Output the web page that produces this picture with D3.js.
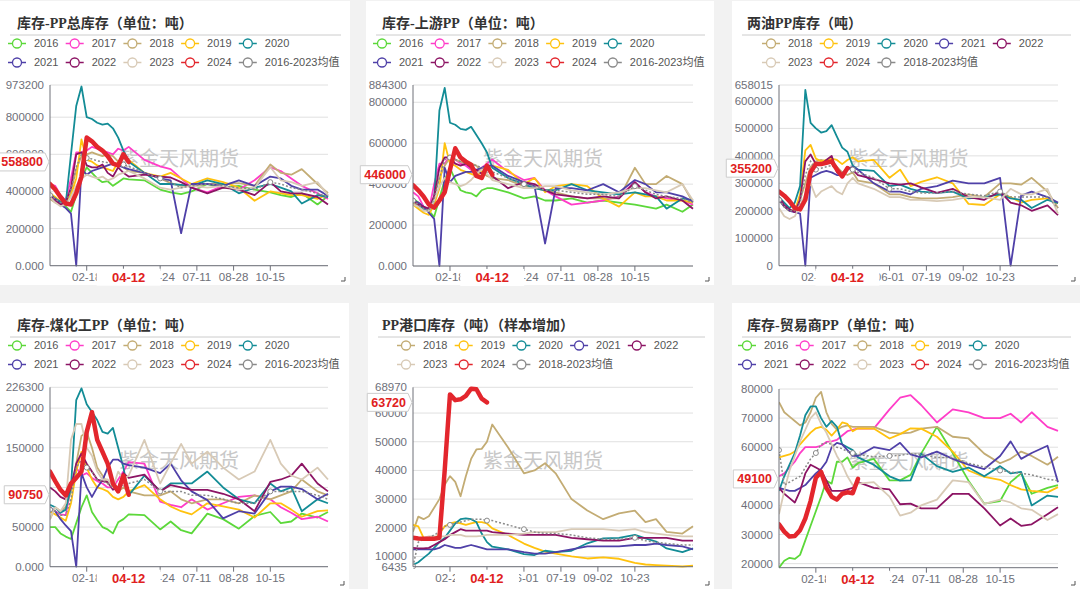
<!DOCTYPE html>
<html>
<head>
    <meta charset="UTF-8">
    <title>PP库存</title>
    <script src="https://d3js.org/d3.v7.min.js"></script>
    <style>
        body { margin: 0; background: #f2f2f2; }
        svg { display: block; font-family: "Liberation Sans", "Noto Sans CJK SC", sans-serif; }
    </style>
</head>
<body>
    <svg width="1080" height="589"></svg>
    <script>
        // week index of every data point: weekly at the start of the year, sparser later
        const weeks = [0,1,2,3,4,5,6,7,8,9,10,11,12,13,14,15,18,21,23,25,27,30,33,36,39,42,44,46,48,51,53];
        const tickIdx = [7, 14, 21, 28, 35, 42];
        // the label at week 14 sits under the 04-12 marker, so it is left empty
        const ticksA = ["02-18", "", "05-24", "07-11", "08-28", "10-15"];
        const ticksB = ["02-22", "", "06-01", "07-19", "09-02", "10-23"];
        const years16 = [2016, 2017, 2018, 2019, 2020, 2021, 2022, 2023, 2024];
        const years18 = [2018, 2019, 2020, 2021, 2022, 2023, 2024];

        // all values in thousand tonnes
        const totalPP = {
            2016: [380,360,340,320,290,380,470,530,500,470,450,455,430,450,470,465,460,410,395,385,400,440,420,430,410,395,380,370,390,330,375],
            2017: [440,430,380,350,470,610,610,620,640,630,620,610,600,630,620,640,570,535,520,470,420,395,430,410,460,530,510,470,430,390,360],
            2018: [360,340,330,335,400,520,590,600,610,600,590,600,590,560,530,510,500,470,445,430,430,440,440,445,430,545,500,490,520,440,390],
            2019: [390,370,345,340,380,470,680,570,560,540,530,520,510,560,590,570,500,480,500,470,440,470,450,420,350,400,390,380,380,360,385],
            2020: [385,360,345,335,600,860,965,800,790,770,760,765,740,690,620,560,500,440,440,435,430,460,440,390,420,440,420,400,335,380,370],
            2021: [380,360,330,310,280,0,520,490,510,520,530,540,550,540,530,520,500,470,460,175,440,440,430,460,430,480,470,430,410,410,375],
            2022: [380,350,330,340,420,600,610,540,530,530,545,500,480,530,500,480,490,480,475,450,420,390,420,410,380,450,400,390,390,370,330],
            2023: [370,340,320,330,370,430,470,490,480,470,480,460,470,490,500,510,470,420,410,420,430,420,430,410,420,530,460,450,430,450,380],
            2024: [440,410,370,335,330,390,480,690,670,640,620,590,550,540,600,558.8],
            avg: [380,360,340,335,410,530,600,580,575,565,560,555,545,550,545,535,500,470,450,420,430,440,430,420,410,450,440,420,410,390,370]
        };

        const upstreamPP = {
            2016: [330,310,290,270,240,330,420,480,420,370,360,355,340,370,380,380,360,330,340,320,320,330,310,320,310,300,290,280,300,265,300],
            2017: [360,340,290,270,400,500,500,540,520,500,490,470,440,480,500,520,460,420,430,370,340,300,310,320,340,410,360,340,330,320,300],
            2018: [310,290,270,280,340,430,490,530,520,510,500,500,490,460,440,430,420,390,380,370,360,340,330,330,330,480,400,400,440,400,310],
            2019: [300,280,260,250,300,380,600,500,490,470,460,450,440,460,470,490,470,400,430,360,390,400,390,330,290,360,340,340,320,320,310],
            2020: [330,300,280,270,320,760,870,700,690,670,665,680,640,600,555,480,430,400,380,370,370,400,370,360,350,360,350,340,280,330,320],
            2021: [320,310,290,260,230,0,480,410,440,450,460,460,470,480,490,490,440,410,390,110,380,380,370,400,360,420,400,360,360,340,315],
            2022: [320,300,290,280,340,480,530,530,500,490,500,480,470,450,480,440,380,410,400,370,350,340,330,340,330,410,360,330,340,320,280],
            2023: [300,290,270,270,320,390,430,410,400,390,400,420,450,470,450,420,400,380,380,390,390,370,360,350,360,380,380,370,360,400,320],
            2024: [395,370,340,300,285,320,360,470,575,530,510,495,440,430,490,446],
            avg: [320,300,280,270,330,430,520,530,520,510,500,500,490,480,470,460,430,400,390,370,370,360,350,350,340,390,370,350,340,330,310]
        };

        const twoOilPP = {
            2018: [250,215,200,205,240,300,360,380,385,380,380,360,340,330,340,310,300,260,260,250,245,245,250,260,250,300,300,295,320,270,210],
            2019: [240,215,200,200,260,420,440,390,380,385,390,385,370,385,395,380,385,320,350,290,305,322,300,225,221,260,250,230,240,245,227],
            2020: [250,230,210,230,290,640,520,500,485,490,512,470,430,415,365,350,345,290,295,280,270,265,270,245,250,260,245,240,210,240,228],
            2021: [240,215,200,195,190,0,320,330,340,345,340,330,330,350,360,350,300,270,270,260,280,290,310,300,300,320,0,255,270,250,230],
            2022: [250,220,205,195,240,380,405,370,370,385,400,340,330,360,350,330,315,300,295,300,285,265,280,250,240,270,230,220,200,220,184],
            2023: [210,180,170,180,220,260,300,250,270,280,290,270,260,300,320,300,280,250,250,240,240,235,240,250,250,240,280,260,260,280,190],
            2024: [270,255,235,210,205,240,340,370,370,375,380,350,325,355.2],
            avg: [240,215,200,200,230,330,380,350,355,360,365,350,340,350,350,340,320,280,280,270,265,265,270,260,255,270,250,250,250,250,210]
        };

        const coalPP = {
            2016: [50,50,42,38,35,55,75,90,69,59,50,47,42,56,60,66,65,47,57,46,42,67,60,48,64,69,55,57,67,62,69],
            2017: [72,70,66,65,100,125,115,118,112,108,105,100,100,110,120,132,130,82,78,75,85,72,80,88,90,85,75,68,60,63,57],
            2018: [60,75,70,75,95,130,165,170,150,125,115,105,100,95,100,95,90,90,95,85,80,85,85,80,90,85,90,95,110,95,90],
            2019: [70,66,62,58,80,120,145,125,110,100,98,95,88,85,88,95,103,85,76,70,66,80,76,72,62,80,80,72,63,70,71],
            2020: [78,75,68,72,100,210,225,205,195,185,170,168,175,150,125,90,115,95,105,105,105,120,100,85,80,105,95,100,70,85,80],
            2021: [75,70,60,52,45,0,118,100,88,100,109,125,135,135,130,128,125,118,130,109,95,84,61,70,67,95,101,101,98,85,92],
            2022: [100,95,88,85,100,130,143,130,120,110,108,107,97,100,118,112,116,95,103,100,97,97,92,85,70,107,110,115,130,105,95],
            2023: [60,75,70,80,160,180,180,150,140,120,110,110,100,120,110,115,160,105,130,155,130,145,125,110,120,160,130,115,110,125,110],
            2024: [120,108,97,90,105,112,120,170,195,160,145,130,105,95,115,90.75],
            avg: [72,70,65,65,85,125,135,125,120,110,108,105,100,100,105,105,110,95,95,95,90,90,85,80,80,95,95,95,95,90,85]
        };

        const portPP = {
            2018: [18.6,23.9,23,24,27,30,35,38,36,31,38,44,47.3,47.5,50,56,48,39,40,42.5,39,30,26,23,25,26,22,23,18.6,18,20.5],
            2019: [21,20.5,16.5,15.7,15.7,18,20.5,21.5,22,21.5,21,21.5,22,22,21.5,19.8,17.5,14.5,13,11.7,11,10,9.3,9.7,9.2,7.8,7.2,7,6.8,6.5,6.8],
            2020: [7,8,9.5,11,13,15,16.5,19,21.5,23,23.3,23,22,18,15,13.4,12.5,10.8,10.5,12,11.5,12,14.6,16.3,16.5,17.5,16.3,15.2,12.8,11.5,12.8],
            2021: [12.5,12.5,12.5,12.5,12.5,13,14,13.5,13,13,13.5,14,13.5,13,12.5,12.5,12.5,11.5,11,11,11.5,12.5,13.5,13.5,13.5,14,14,14.5,14,13.5,12.5],
            2022: [13,12.8,12.8,13,14,15,16,17.5,18.5,19.5,19,19,19,19,19,18.5,18,17.5,17.5,17.5,17.5,16.5,16,15.5,15.5,16.5,16.5,16.5,16.5,15.5,15.5],
            2023: [16,16.5,16.5,17,17,17,17,17.5,17.5,17.5,17,17,17,17.2,17.5,17.5,17.5,18,18.5,18.5,18.5,19.5,19.5,19.5,19,19.5,18.5,18,17.5,17,17],
            2024: [16.5,16.3,16.2,16.2,16.2,16.5,40,66.5,64.5,64.8,66,68.5,68.3,65,63.72],
            avg: [6.5,15,16,16.5,17.5,18.5,20.5,21,21.5,22,22.5,23,23,23,22.5,22.5,21,19.5,18.5,18,18,17.5,16.5,16,16,16.5,15.5,15,14.5,14,14]
        };

        const traderPP = {
            2016: [18.6,21,22,21.6,23,28,33,38,43,48.5,47.5,55,55,56.5,53,54.5,56,48.6,48.6,50.5,57.8,67,58,48.5,40.6,41.5,48,51,44,46,47],
            2017: [50,51,53,55,58,60,60,60,60.5,61.8,62,62.5,64,65.5,66,66.5,66.4,73,77,77.9,74.5,68.5,73,72,70,70,71.5,68.5,72,67,65.6],
            2018: [75.5,72,70.5,69,67.5,68.5,72,77,79,72,68,66,67,67.5,67,67,67,65,64.7,65,66.4,67,63.6,63,57.8,54.5,56,58.5,57,54,56.7],
            2019: [56.5,57,57.5,58.5,61,63,65,66.5,67,66,64,66,68.5,68,65.5,66.5,66.4,63,64.5,66.5,66.4,63.6,58.5,52,49.8,48.8,47,45.5,45,44.5,46.3],
            2020: [45,50,54,58,64,71,74,74,70,67,69,67,61,60,59,56.5,54,50,48.5,48.6,57.8,53.5,51.5,53,50,53.5,51,51.5,40,43.4,42.9],
            2021: [46,45.5,45,45,46,47,49,51,52.5,55,60,61.5,61,59,57,57,60,59,61.5,57.5,56.5,58.5,56,54,52.5,57,62,56,58,60.5,48],
            2022: [46,44,42.5,41,45,51,54,53,52,48.6,45,45,45,45.5,46,48,46,45.5,40.4,40.6,39,39,44,44,39,33.1,35.5,33,33.5,37,39.4],
            2023: [37,45,52,57,62,66,70,72,68,65,61,57,54,50,47,47.5,48,43,36.5,37.5,40,42,48.6,48,40.5,42,41,39,38.5,35,37],
            2024: [33.5,31,29.3,29.5,31.5,35.5,41.5,49.5,51.5,46,43,42,44,44.5,44.2,49.1],
            avg: [59,47,48,49,50,53,56,58,61,61.5,61,60,59.5,58.5,58,57.5,56.7,57,57.2,57.8,57.5,56.5,56.5,54.5,53.2,52,51.5,51,50.5,49,48.5]
        };

        const colors = {
            2016: "#5cd83a", 2017: "#ff3dc8", 2018: "#c3ac74", 2019: "#ffc20e", 2020: "#138c96",
            2021: "#4f40a8", 2022: "#8c1464", 2023: "#d8cab6", 2024: "#e3262d", avg: "#8a8a8a"
        };

        const panels = [
            { title: "库存-PP总库存（单位：吨）", data: totalPP, years: years16, avgName: "2016-2023均值",
              card: [0, 1, 350, 284], plot: [50, 85, 328, 265.7], yDomain: [0, 973.2],
              yTicks: [0, 200, 400, 600, 800, 973.2], zero: "0.000", titleX: 17, legendX: 8, xLabels: ticksA },
            { title: "库存-上游PP（单位：吨）", data: upstreamPP, years: years16, avgName: "2016-2023均值",
              card: [366, 1, 348, 284], plot: [413, 85, 693, 266], yDomain: [0, 884.3],
              yTicks: [0, 200, 400, 600, 800, 884.3], zero: "0.000", titleX: 382, legendX: 373, xLabels: ticksA },
            { title: "两油PP库存（吨）", data: twoOilPP, years: years18, avgName: "2018-2023均值",
              card: [732, 1, 348, 284], plot: [779, 85, 1058, 265.7], yDomain: [0, 658.015],
              yTicks: [0, 100, 200, 300, 400, 500, 600, 658.015], zero: "0", titleX: 747, legendX: 762, xLabels: ticksB },
            { title: "库存-煤化工PP（单位：吨）", data: coalPP, years: years16, avgName: "2016-2023均值",
              card: [0, 303, 349, 286], plot: [50, 387.3, 328, 566.7], yDomain: [0, 226.3],
              yTicks: [0, 50, 100, 150, 200, 226.3], zero: "0.000", titleX: 17, legendX: 8, xLabels: ticksA },
            { title: "PP港口库存（吨）（样本增加）", data: portPP, years: years18, avgName: "2018-2023均值",
              card: [368, 303, 346, 286], plot: [413, 387.3, 693, 566.7], yDomain: [6.435, 68.97],
              yTicks: [6.435, 10, 20, 30, 40, 50, 60, 68.97], zero: "0", titleX: 382, legendX: 397, xLabels: ticksB },
            { title: "库存-贸易商PP（单位：吨）", data: traderPP, years: years16, avgName: "2016-2023均值",
              card: [732, 303, 348, 286], plot: [779, 389, 1058, 567.7], yDomain: [18.6, 80],
              yTicks: [20, 30, 40, 50, 60, 70, 80], zero: "0", titleX: 747, legendX: 738, xLabels: ticksA }
        ];

        const svg = d3.select("svg");
        svg.append("rect").attr("width", 1080).attr("height", 589).attr("fill", "#f2f2f2");

        const axisColor = "#6e7079";
        const tons = v => String(Math.round(v * 1000));

        panels.forEach(p => drawPanel(p));

        function drawPanel(p) {
            const [cx, cy, cw, ch] = p.card;
            const [pl, pt, pr, pb] = p.plot;
            const g = svg.append("g");

            g.append("rect").attr("x", cx).attr("y", cy).attr("width", cw).attr("height", ch).attr("fill", "#fff");

            g.append("text")
                .attr("x", p.titleX).attr("y", cy + 27)
                .attr("font-family", '"Liberation Serif", "Noto Sans CJK SC", serif')
                .attr("font-size", "14px").attr("font-weight", "bold").attr("fill", "#333")
                .text(p.title);

            g.append("line")
                .attr("x1", cx + 10).attr("x2", cx + cw - 9)
                .attr("y1", cy + 34).attr("y2", cy + 34)
                .attr("stroke", "#ccc");

            // legend, five items per row
            const keys = p.years.map(String).concat(["avg"]);
            keys.forEach((k, i) => {
                const lx = p.legendX + (i % 5) * 57.7;
                const ly = cy + 42.5 + Math.floor(i / 5) * 19;
                const c = colors[k];
                g.append("line").attr("x1", lx).attr("x2", lx + 18).attr("y1", ly).attr("y2", ly)
                    .attr("stroke", c).attr("stroke-width", 1.5);
                g.append("circle").attr("cx", lx + 9).attr("cy", ly).attr("r", 4.5)
                    .attr("fill", "#fff").attr("stroke", c).attr("stroke-width", 1.3);
                g.append("text").attr("x", lx + 26).attr("y", ly).attr("dy", "0.35em")
                    .attr("font-size", "11px").attr("fill", "#555")
                    .text(k === "avg" ? p.avgName : k);
            });

            const x = d3.scaleLinear().domain([0, 53]).range([pl, pr]);
            const y = d3.scaleLinear().domain(p.yDomain).range([pb, pt]);

            // grid
            g.selectAll(".grid").data(p.yTicks).enter().append("line")
                .attr("x1", pl).attr("x2", pr)
                .attr("y1", d => y(d)).attr("y2", d => y(d))
                .attr("stroke", "#e0e0e0");

            // watermark
            g.append("text")
                .attr("x", (pl + pr) / 2 - 10).attr("y", pt + (pb - pt) * 0.41)
                .attr("text-anchor", "middle").attr("dy", "0.35em")
                .attr("font-family", '"Noto Sans CJK SC", sans-serif')
                .attr("font-size", "20px").attr("fill", "#c8c8c8")
                .text("紫金天风期货");

            const line = d3.line()
                .x((d, i) => x(weeks[i]))
                .y(d => y(d));

            const clipId = "clip" + pl + "_" + Math.round(pt);
            g.append("clipPath").attr("id", clipId).append("rect")
                .attr("x", pl).attr("y", pt - 4).attr("width", pr - pl + 2).attr("height", pb - pt + 6);
            const lines = g.append("g").attr("clip-path", `url(#${clipId})`);

            p.years.filter(yr => yr !== 2024).forEach(yr => {
                lines.append("path").datum(p.data[yr])
                    .attr("d", line).attr("fill", "none")
                    .attr("stroke", colors[yr]).attr("stroke-width", 1.8)
                    .attr("stroke-linejoin", "round");
            });

            lines.append("path").datum(p.data.avg)
                .attr("d", line).attr("fill", "none")
                .attr("stroke", colors.avg).attr("stroke-width", 1.5)
                .attr("stroke-dasharray", "2,2");
            lines.selectAll(".avgpt")
                .data(p.data.avg.map((v, i) => [weeks[i], v]).filter(d => d[0] % 7 === 0))
                .enter().append("circle")
                .attr("cx", d => x(d[0])).attr("cy", d => y(d[1])).attr("r", 2.5)
                .attr("fill", "#fff").attr("stroke", colors.avg);

            const cur = p.data[2024];
            lines.append("path").datum(cur)
                .attr("d", line).attr("fill", "none")
                .attr("stroke", colors[2024]).attr("stroke-width", 4.5)
                .attr("stroke-linejoin", "round").attr("stroke-linecap", "round");

            // axes
            g.append("line").attr("x1", pl).attr("x2", pl).attr("y1", pt).attr("y2", pb)
                .attr("stroke", axisColor);
            g.append("line").attr("x1", pl).attr("x2", pr).attr("y1", pb).attr("y2", pb)
                .attr("stroke", axisColor);

            const lastY = y(cur[cur.length - 1]);

            // y labels fully covered by the latest-value tag are skipped
            g.selectAll(".ylab").data(p.yTicks.filter(t => Math.abs(y(t) - lastY) > 7.5)).enter().append("text")
                .attr("x", pl - 6).attr("y", d => y(d)).attr("dy", "0.35em")
                .attr("text-anchor", "end").attr("font-size", "11.5px").attr("fill", axisColor)
                .text(d => d === 0 ? p.zero : tons(d));

            g.selectAll(".xtick").data(tickIdx).enter().append("line")
                .attr("x1", d => x(d)).attr("x2", d => x(d))
                .attr("y1", pb).attr("y2", pb + 5)
                .attr("stroke", axisColor);

            g.selectAll(".xlab").data(tickIdx).enter().append("text")
                .attr("x", d => x(d)).attr("y", pb + 15)
                .attr("text-anchor", "middle").attr("font-size", "11.5px").attr("fill", axisColor)
                .text((d, i) => p.xLabels[i]);

            // current date marker on the x axis
            const lastX = x(weeks[cur.length - 1]);
            g.append("rect").attr("x", lastX - 32).attr("y", pb + 3).attr("width", 64).attr("height", 17)
                .attr("fill", "#fff");
            g.append("text").attr("x", lastX).attr("y", pb + 16)
                .attr("text-anchor", "middle").attr("font-size", "13px").attr("font-weight", "bold")
                .attr("fill", "#e02020").text("04-12");

            // latest value marker on the y axis
            const tag = g.append("g");
            const tagPath = tag.append("path").attr("fill", "#fff").attr("stroke", "#ccc");
            const tagText = tag.append("text")
                .attr("x", pl - 7).attr("y", lastY).attr("dy", "0.36em")
                .attr("text-anchor", "end").attr("font-size", "12.5px").attr("font-weight", "bold")
                .attr("fill", "#e02020").text(tons(cur[cur.length - 1]));
            const tw = tagText.node().getComputedTextLength();
            const x0 = pl - 7 - tw - 4, x1 = pl - 5;
            tagPath.attr("d", `M${x0},${lastY - 9}H${x1}L${x1 + 4},${lastY}L${x1},${lastY + 9}H${x0}Z`);

            // small resize mark in the corner
            g.append("path")
                .attr("d", `M${cx + cw - 9},${cy + ch - 4}H${cx + cw - 5}V${cy + ch - 8}`)
                .attr("fill", "none").attr("stroke", "#555");
        }
    </script>
</body>
</html>
